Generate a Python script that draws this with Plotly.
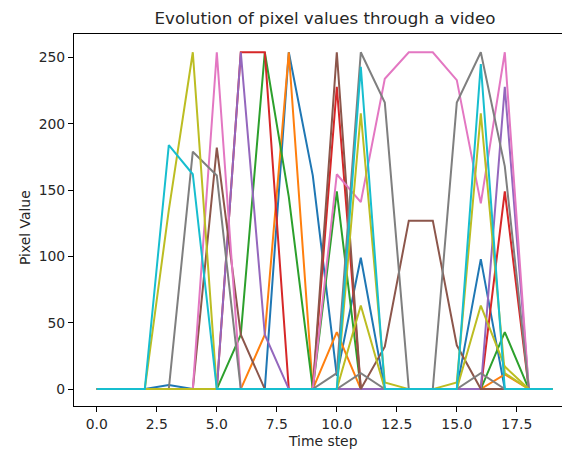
import plotly.graph_objects as go

time_steps = list(range(20))

# pixel value series, tab10 colour cycle
blue   = [0, 0, 0, 3, 0, 0, 0, 0, 254, 161, 10, 99, 0, 0, 0, 0, 98, 0, 0, 0]
orange = [0, 0, 0, 0, 0, 0, 0, 41, 254, 0, 43, 0, 0, 0, 0, 0, 0, 11, 0, 0]
green  = [0, 0, 0, 0, 0, 0, 41, 254, 145, 0, 149, 0, 0, 0, 0, 0, 0, 43, 0, 0]
red    = [0, 0, 0, 0, 0, 0, 254, 254, 0, 0, 228, 0, 0, 0, 0, 0, 0, 149, 0, 0]
purple = [0, 0, 0, 0, 0, 0, 254, 41, 0, 0, 0, 0, 0, 0, 0, 0, 0, 228, 0, 0]
brown  = [0, 0, 0, 0, 0, 182, 41, 0, 0, 0, 254, 0, 32, 127, 127, 33, 0, 0, 0, 0]
pink   = [0, 0, 0, 0, 0, 254, 0, 0, 0, 0, 162, 141, 234, 254, 254, 233, 140, 254, 0, 0]
gray   = [0, 0, 0, 0, 179, 161, 0, 0, 0, 0, 12, 254, 216, 0, 0, 216, 254, 168, 0, 0]
olive  = [0, 0, 0, 135, 254, 0, 0, 0, 0, 0, 0, 208, 5, 0, 0, 5, 208, 12, 0, 0]
gray2  = [0, 0, 0, 0, 0, 0, 0, 0, 0, 0, 0, 12, 0, 0, 0, 0, 12, 0, 0, 0]
olive2 = [0, 0, 0, 0, 0, 0, 0, 0, 0, 0, 0, 63, 0, 0, 0, 0, 63, 17, 0, 0]
cyan   = [0, 0, 0, 184, 162, 0, 0, 0, 0, 0, 0, 243, 0, 0, 0, 0, 245, 0, 0, 0]

series = [
    (blue, "#1f77b4"), (orange, "#ff7f0e"), (green, "#2ca02c"), (red, "#d62728"),
    (purple, "#9467bd"), (brown, "#8c564b"), (pink, "#e377c2"), (gray, "#7f7f7f"),
    (olive, "#bcbd22"), (gray2, "#7f7f7f"), (olive2, "#bcbd22"), (cyan, "#17becf"),
]

x_ticks = [0, 2.5, 5, 7.5, 10, 12.5, 15, 17.5]
x_tick_labels = ["0.0", "2.5", "5.0", "7.5", "10.0", "12.5", "15.0", "17.5"]
y_ticks = [0, 50, 100, 150, 200, 250]
y_tick_labels = ["0", "50", "100", "150", "200", "250"]

fig = go.Figure()
for vals, col in series:
    fig.add_trace(go.Scatter(x=time_steps, y=vals, mode="lines",
                             line=dict(color=col, width=2), showlegend=False,
                             hoverinfo="skip"))

font = "DejaVu Sans, Arial, sans-serif"
W, H = 562, 449
L, R, T, B = 74, 0, 34, 43
PW, PH = W - L - R, H - T - B


def px_to_paper(px, py):
    return (px - L) / PW, (H - B - py) / PH


tx, ty = px_to_paper(323, 441)
yx, yy = px_to_paper(25, 228)

fig.update_layout(
    width=W, height=H,
    margin=dict(l=L, r=R, t=T, b=B, autoexpand=False),
    paper_bgcolor="white", plot_bgcolor="white",
    font=dict(family=font, size=13.9, color="#262626"),
    title=dict(text="Evolution of pixel values through a video",
               font=dict(size=16.7, color="#262626", family=font),
               x=325 / W, xanchor="center", xref="container",
               y=1 - 18 / H, yanchor="middle", yref="container"),
    xaxis=dict(range=[-0.95, -0.95 + PW / 24], tickmode="array",
               tickvals=x_ticks, ticktext=x_tick_labels, automargin=False,
               showgrid=False, zeroline=False, showline=True, mirror=True,
               linecolor="black", linewidth=1.1, ticks="outside", ticklen=5,
               tickwidth=1.1, tickcolor="black"),
    yaxis=dict(range=[-12.75, 267.75], tickmode="array",
               tickvals=y_ticks, ticktext=y_tick_labels, automargin=False,
               showgrid=False, zeroline=False, showline=True, mirror=False,
               linecolor="black", linewidth=1.1, ticks="outside", ticklen=5,
               tickwidth=1.1, tickcolor="black"),
    annotations=[
        dict(text="Time step", x=tx, y=ty, xref="paper", yref="paper",
             showarrow=False, xanchor="center", yanchor="middle",
             font=dict(size=13.9, family=font, color="#262626")),
        dict(text="Pixel Value", x=yx, y=yy, xref="paper", yref="paper",
             showarrow=False, xanchor="center", yanchor="middle", textangle=-90,
             font=dict(size=13.9, family=font, color="#262626")),
    ],
)
fig.write_html("out.html", config={"displayModeBar": False},
               post_script="document.body.style.margin='0';document.body.style.overflow='hidden';")
